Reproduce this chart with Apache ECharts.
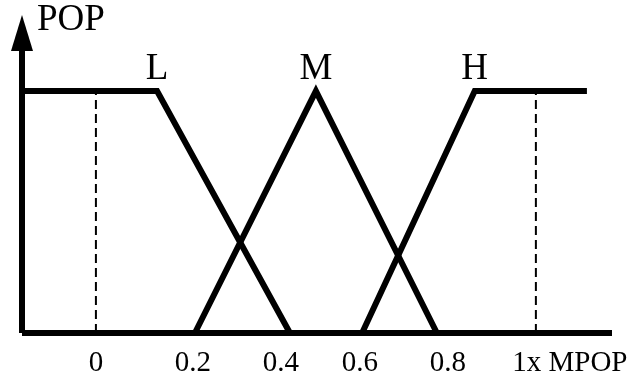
<!DOCTYPE html>
<html>
<head>
<meta charset="utf-8">
<script src="https://cdn.jsdelivr.net/npm/echarts@6/dist/echarts.min.js"></script>
<style>html,body{margin:0;padding:0;background:#fff}#c{width:634px;height:381px}</style>
</head>
<body>
<div id="c"></div>
<script>
// Membership function break points (x in units of MPOP, y = membership)
const curveNames = ['L', 'M', 'H'];
const lowX  = [-0.168, 0.139, 0.441];
const lowY  = [1, 1, 0];
const midX  = [0.225, 0.5, 0.775];
const midY  = [0, 1, 0];
const highX = [0.605, 0.861, 1.116];
const highY = [0, 1, 1];
const labelPointIndex = [1, 1, 1];
const dashX = [0, 1];
const xTickValues = [0, 0.2, 0.4, 0.6, 0.8, 1];
const xTickLabels = ['0', '0.2', '0.4', '0.6', '0.8', '1x MPOP'];
const yAxisName = 'POP';

const FONT = '"Liberation Serif", "DejaVu Serif", serif';
const curves = [[lowX, lowY], [midX, midY], [highX, highY]];

const series = curves.map(function (c, i) {
  return {
    type: 'line',
    name: curveNames[i],
    symbol: 'none',
    silent: true,
    lineStyle: { color: '#000', width: 6, join: 'miter', cap: 'butt' },
    z: 3,
    data: c[0].map(function (x, j) { return [x, c[1][j]]; })
  };
});

// Curve name labels placed at the chosen break point of each curve
series.push({
  type: 'scatter',
  silent: true,
  symbol: 'circle',
  symbolSize: 1,
  itemStyle: { color: '#000', opacity: 1 },
  label: {
    show: true, position: 'top', distance: 3,
    formatter: function (p) { return p.name; },
    color: '#000', opacity: 1, textBorderWidth: 0,
    fontFamily: FONT, fontSize: 37
  },
  z: 4,
  data: curves.map(function (c, i) {
    const j = labelPointIndex[i];
    return { name: curveNames[i], value: [c[0][j], c[1][j]] };
  })
});

dashX.forEach(function (x) {
  series.push({
    type: 'line', symbol: 'none', silent: true,
    lineStyle: { color: '#000', width: 2, type: [9, 5] },
    z: 2,
    data: [[x, 0], [x, 1]]
  });
});

const chart = echarts.init(document.getElementById('c'), null, { renderer: 'canvas' });
chart.setOption({
  animation: false,
  backgroundColor: '#fff',
  grid: { left: 22, right: 22, top: 33, bottom: 48, containLabel: false },
  xAxis: {
    type: 'value', min: -0.168, max: 1.173,
    splitLine: { show: false },
    axisTick: { show: false },
    axisLine: { show: true, onZero: false, lineStyle: { color: '#000', width: 6, cap: 'butt' } },
    axisLabel: {
      show: true,
      customValues: xTickValues,
      margin: 16,
      color: '#000', fontFamily: FONT, fontSize: 29,
      formatter: function (v) {
        const k = xTickValues.indexOf(v);
        const t = k >= 0 ? xTickLabels[k] : '';
        if (v === 1) return '{w|' + t + '}';
        if (v === 0.2 || v === 0.4) return '{s|' + t + '}';
        return t;
      },
      rich: {
        w: { fontFamily: FONT, fontSize: 29, color: '#000', padding: [0, 0, 0, 68] },
        s: { fontFamily: FONT, fontSize: 29, color: '#000', padding: [0, 0, 0, 18] }
      }
    }
  },
  yAxis: {
    type: 'value', min: 0, max: 1.24,
    splitLine: { show: false },
    axisTick: { show: false },
    axisLabel: { show: false },
    name: yAxisName,
    nameLocation: 'end',
    nameGap: 13,
    nameTextStyle: {
      color: '#000', fontFamily: FONT, fontSize: 37,
      align: 'left', verticalAlign: 'middle', padding: [0, 0, 0, 15]
    },
    axisLine: {
      show: true,
      onZero: false,
      symbol: ['none', 'triangle'],
      symbolSize: [22, 36],
      lineStyle: { color: '#000', width: 6, cap: 'butt' }
    }
  },
  series: series
});
</script>
</body>
</html>
